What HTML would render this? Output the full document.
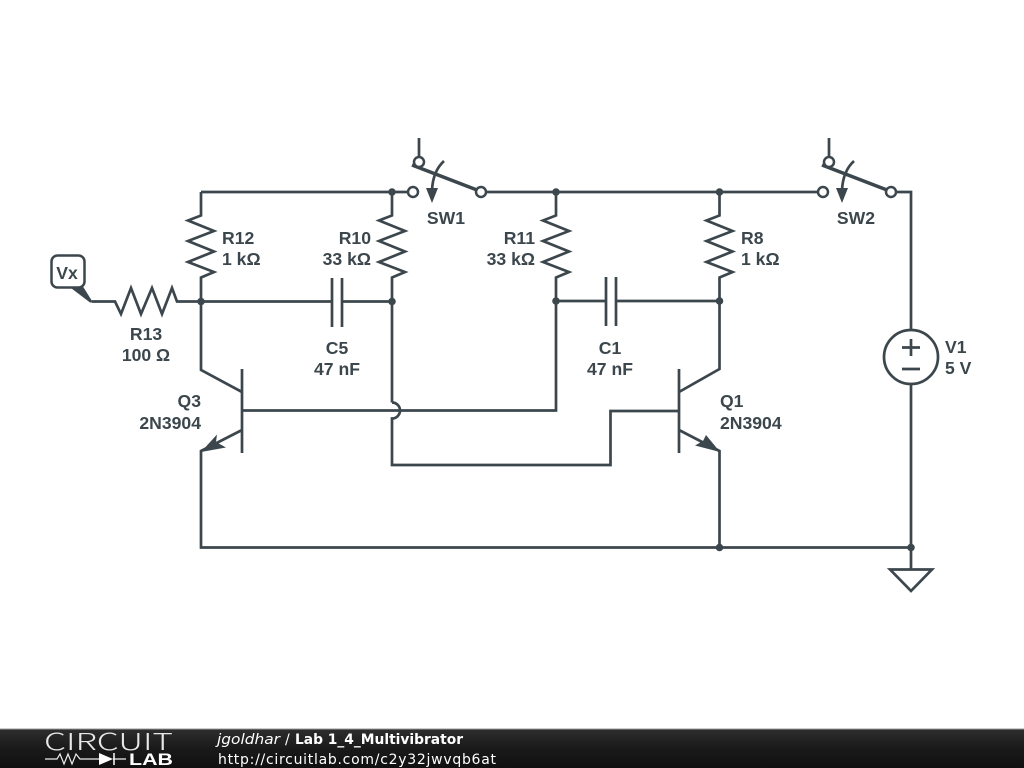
<!DOCTYPE html>
<html><head><meta charset="utf-8">
<style>
html,body{margin:0;padding:0;background:#fff;width:1024px;height:768px;overflow:hidden}
svg{display:block}
.w{fill:none;stroke:#3c474d;stroke-width:2.7;stroke-linejoin:miter}
.a{fill:none;stroke:#3c474d;stroke-width:3.6}
.d{fill:#3c474d}
.o{fill:#fff;stroke:#3c474d;stroke-width:2.5}
.l{font:bold 17.6px "Liberation Sans",sans-serif;fill:#3c474d}
.m{text-anchor:middle}
.e{text-anchor:end}
.f{font-family:"DejaVu Sans",sans-serif;font-size:14px;fill:#fff}
</style></head><body>
<svg width="1024" height="768" viewBox="0 0 1024 768" xmlns="http://www.w3.org/2000/svg">
<defs><linearGradient id="g" x1="0" y1="0" x2="0" y2="1"><stop offset="0" stop-color="#2e2e2e"/><stop offset="0.5" stop-color="#1a1a1a"/><stop offset="1" stop-color="#101010"/></linearGradient></defs>
<rect width="1024" height="768" fill="#fff"/>

<!-- top rail -->
<path class="w" d="M201 192H408M486 192H818M896 192H911V330M911 384V569"/>
<!-- resistors vertical -->
<path class="w" d="M201 192V215.5L188 220.5L214 231L188 241L214 251.5L188 262L214 272L201 277.5V370L242 392"/>
<path class="w" d="M392 192V215.5L379 220.5L405 231L379 241L405 251.5L379 262L405 272L392 277.5V402.500"/>
<path class="w" d="M556 192V215.5L543 220.5L569 231L543 241L569 251.5L543 262L569 272L556 277.5V410.5H242"/>
<path class="w" d="M719.5 192V215.5L706.5 220.5L732.5 231L706.5 241L732.5 251.5L706.5 262L732.5 272L719.5 277.5V369L679 392"/>
<!-- jump -->
<path class="w" d="M392 402.500A8 8 0 0 1 392 418.500V465H610.500V411H679"/>
<!-- R13 -->
<path class="w" d="M92 301.500H115L121 314L131 288L141 314L152 288L162 314L172 288L177 301.500H332M342 301.500H392"/>
<path class="w" d="M556 301H606M616 301H719.5"/>
<!-- caps -->
<path class="w" d="M332 278V327M342 278V327M606 277V326M616 277V326"/>
<!-- transistors -->
<path class="w" d="M242 369V453M679 369V453"/>
<path class="w" d="M242 430L201 451V547.500H911M679 430L719.500 451V547.500"/>
<path class="d" d="M201 452L217 434.500L216 442L226 447.500Z"/>
<path class="d" d="M720 452L706 435L703 441L695 445.500Z"/>
<!-- source -->
<circle class="w" cx="911" cy="357" r="27"/>
<path class="w" d="M902 347.500H920M911 339V356M902 369H920"/>
<!-- ground -->
<path class="w" d="M890 569.500H932L911 591Z"/>
<!-- switches -->
<g>
<path class="w" d="M419 138V157"/>
<path class="a" d="M412 165L477 190"/>
<path class="w" d="M444 161Q433 171 432 190"/>
<path class="d" d="M432 203L426 188H438Z"/>
<circle class="o" cx="419" cy="162" r="5"/>
<circle class="o" cx="413" cy="192" r="5"/>
<circle class="o" cx="481" cy="192" r="5"/>
</g>
<g transform="translate(410,0)">
<path class="w" d="M419 138V157"/>
<path class="a" d="M412 165L477 190"/>
<path class="w" d="M444 161Q433 171 432 190"/>
<path class="d" d="M432 203L426 188H438Z"/>
<circle class="o" cx="419" cy="162" r="5"/>
<circle class="o" cx="413" cy="192" r="5"/>
<circle class="o" cx="481" cy="192" r="5"/>
</g>
<!-- Vx -->
<path class="d" d="M67 285L82 285L93 302.500L90 302.500Z"/>
<rect x="51.500" y="255.500" width="33" height="32" rx="6" fill="#fff" stroke="#3c474d" stroke-width="2.5"/>
<!-- dots -->
<g class="d">
<circle cx="392" cy="192" r="3.800"/><circle cx="556" cy="192" r="3.800"/><circle cx="719.500" cy="192" r="3.800"/>
<circle cx="201" cy="301.500" r="3.800"/><circle cx="392" cy="301.500" r="3.800"/><circle cx="556" cy="301" r="3.800"/><circle cx="719.500" cy="301" r="3.800"/>
<circle cx="719.500" cy="547.500" r="3.800"/><circle cx="911" cy="547.500" r="3.800"/>
</g>
<!-- labels -->
<text class="l m" x="67" y="279">Vx</text>
<text class="l m" x="446" y="224">SW1</text>
<text class="l m" x="856" y="224">SW2</text>
<text class="l" x="222" y="244">R12</text><text class="l" x="222" y="265">1 kΩ</text>
<text class="l e" x="371" y="244">R10</text><text class="l e" x="371" y="265">33 kΩ</text>
<text class="l e" x="535" y="244">R11</text><text class="l e" x="535" y="265">33 kΩ</text>
<text class="l" x="741" y="244">R8</text><text class="l" x="741" y="265">1 kΩ</text>
<text class="l m" x="146" y="340">R13</text><text class="l m" x="146" y="361">100 Ω</text>
<text class="l m" x="337" y="354">C5</text><text class="l m" x="337" y="375">47 nF</text>
<text class="l m" x="610" y="354">C1</text><text class="l m" x="610" y="375">47 nF</text>
<text class="l e" x="201" y="407">Q3</text><text class="l e" x="201" y="429">2N3904</text>
<text class="l" x="720" y="407">Q1</text><text class="l" x="720" y="429">2N3904</text>
<text class="l" x="945" y="353">V1</text><text class="l" x="945" y="374">5 V</text>
<!-- footer -->
<rect y="729" width="1024" height="39" fill="url(#g)"/>
<rect y="728.500" width="1024" height="1" fill="#999"/>
<text x="44" y="750" font-family="'DejaVu Sans ExtraLight','Noto Sans CJK JP',sans-serif" font-weight="200" font-size="23" textLength="129" lengthAdjust="spacingAndGlyphs" fill="#e8e8e8">CIRCUIT</text>
<path d="M45 759H57L60 754L64 764L68 754L72 764L76 754L80 759H99M113 759H126" fill="none" stroke="#eee" stroke-width="1.2"/>
<path d="M99 753L113 759L99 765Z" fill="#fff"/><path d="M114 753V765" stroke="#fff" stroke-width="1.5"/>
<text x="129" y="765" font-family="'Liberation Sans',sans-serif" font-weight="bold" font-size="16.500" textLength="44" lengthAdjust="spacingAndGlyphs" fill="#fff">LAB</text>
<text class="f" x="217" y="744" font-style="italic" textLength="63" lengthAdjust="spacingAndGlyphs">jgoldhar</text>
<text class="f" x="285" y="744">/</text>
<text class="f" x="295" y="744" font-weight="bold" textLength="168" lengthAdjust="spacingAndGlyphs">Lab 1_4_Multivibrator</text>
<text class="f" x="218" y="764" textLength="278">http://circuitlab.com/c2y32jwvqb6at</text>
</svg>
</body></html>
